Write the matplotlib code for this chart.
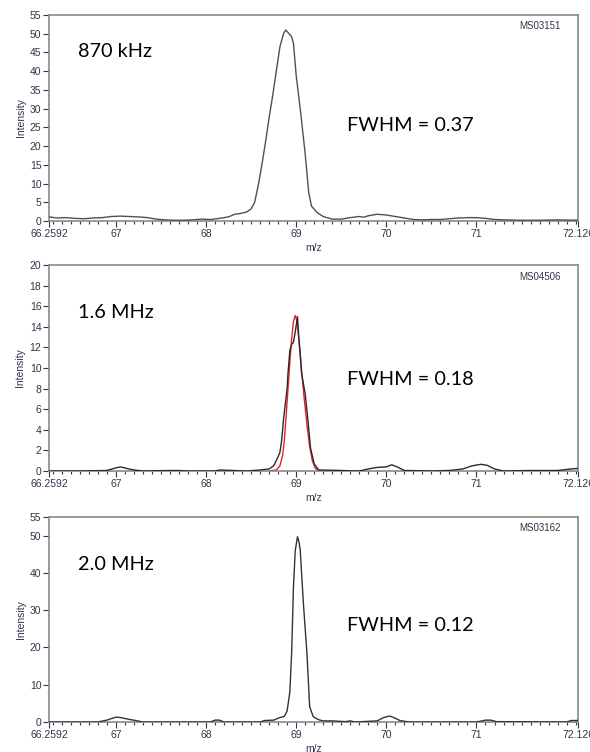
import matplotlib
matplotlib.use("Agg")
import matplotlib.pyplot as plt
import numpy as np
from matplotlib.ticker import MultipleLocator, FixedLocator

# ---------------- data ----------------
x_870 = [66.26, 66.35, 66.45, 66.55, 66.65, 66.75, 66.85, 66.95, 67.05, 67.15, 67.25, 67.35,
         67.45, 67.55, 67.65, 67.75, 67.85, 67.95, 68.05, 68.15, 68.25, 68.32, 68.38, 68.45,
         68.50, 68.54, 68.58, 68.62, 68.66, 68.70, 68.74, 68.78, 68.82, 68.86, 68.885, 68.95,
         68.97, 69.00, 69.05, 69.10, 69.14, 69.17, 69.23, 69.30, 69.40, 69.50, 69.60, 69.70,
         69.75, 69.80, 69.90, 70.00, 70.10, 70.20, 70.30, 70.40, 70.50, 70.60, 70.70, 70.80,
         70.90, 71.00, 71.10, 71.20, 71.30, 71.50, 71.70, 71.90, 72.126]
y_870 = [1.1, 0.8, 0.9, 0.7, 0.6, 0.8, 0.9, 1.2, 1.3, 1.2, 1.1, 0.9,
         0.5, 0.3, 0.2, 0.2, 0.3, 0.5, 0.4, 0.7, 1.1, 1.8, 2.0, 2.4,
         3.2, 5.0, 9.5, 15.0, 21.0, 27.5, 33.5, 40.0, 46.5, 50.0, 51.0, 49.2,
         47.5, 39.0, 29.0, 18.0, 7.5, 4.0, 2.3, 1.2, 0.5, 0.5, 0.9, 1.2,
         1.0, 1.4, 1.8, 1.6, 1.2, 0.8, 0.4, 0.3, 0.4, 0.4, 0.6, 0.8,
         0.9, 0.9, 0.7, 0.4, 0.3, 0.2, 0.2, 0.3, 0.2]

x_16 = [66.26, 66.60, 66.90, 67.00, 67.05, 67.12, 67.20, 67.30, 67.60, 67.70, 67.80, 68.10,
        68.15, 68.30, 68.45, 68.60, 68.70, 68.75, 68.785, 68.82, 68.84, 68.86, 68.88, 68.90,
        68.91, 68.93, 68.95, 68.97, 68.99, 69.015, 69.03, 69.045, 69.06, 69.10, 69.13, 69.16,
        69.20, 69.25, 69.50, 69.70, 69.80, 69.90, 70.00, 70.06, 70.12, 70.20, 70.50, 70.70,
        70.85, 70.95, 71.05, 71.12, 71.20, 71.30, 71.60, 71.90, 72.05, 72.126]
y_16 = [0.0, 0.0, 0.05, 0.3, 0.4, 0.25, 0.1, 0.0, 0.05, 0.05, 0.0, 0.0,
        0.1, 0.05, 0.0, 0.1, 0.2, 0.5, 1.1, 1.8, 3.0, 5.0, 6.5, 8.0,
        9.5, 11.7, 12.3, 12.5, 13.5, 15.0, 12.9, 11.4, 9.5, 7.5, 5.0, 2.2,
        0.7, 0.1, 0.05, 0.0, 0.2, 0.35, 0.4, 0.6, 0.4, 0.05, 0.0, 0.05,
        0.2, 0.5, 0.65, 0.55, 0.2, 0.0, 0.05, 0.05, 0.2, 0.25]

x_16_fit = [68.70, 68.78, 68.82, 68.85, 68.87, 68.89, 68.91, 68.93, 68.95, 68.97, 68.99,
            69.01, 69.03, 69.06, 69.09, 69.12, 69.15, 69.18, 69.21, 69.25]
y_16_fit = [0.0, 0.1, 0.5, 1.5, 3.0, 5.5, 8.0, 10.5, 12.8, 14.5, 15.1,
            14.5, 12.8, 9.8, 7.0, 4.5, 2.4, 1.0, 0.3, 0.0]

x_20 = [66.26, 66.80, 66.90, 67.00, 67.05, 67.15, 67.22, 67.30, 68.05, 68.10, 68.15, 68.20,
        68.60, 68.65, 68.75, 68.82, 68.87, 68.90, 68.93, 68.95, 68.97, 68.99, 69.015, 69.03,
        69.045, 69.08, 69.12, 69.15, 69.19, 69.25, 69.30, 69.40, 69.55, 69.60, 69.65, 69.90,
        69.97, 70.04, 70.10, 70.15, 70.25, 71.00, 71.10, 71.16, 71.22, 72.00, 72.05, 72.126]
y_20 = [0.0, 0.0, 0.5, 1.3, 1.2, 0.7, 0.4, 0.0, 0.0, 0.5, 0.5, 0.0,
        0.0, 0.4, 0.5, 1.2, 1.5, 3.0, 8.0, 18.4, 36.0, 46.0, 49.7, 48.5,
        46.3, 32.0, 18.4, 4.1, 1.4, 0.6, 0.3, 0.3, 0.1, 0.3, 0.0, 0.3,
        1.2, 1.6, 1.0, 0.4, 0.0, 0.0, 0.5, 0.5, 0.1, 0.0, 0.4, 0.4]

panel_labels = ["870 kHz", "1.6 MHz", "2.0 MHz"]
fwhm_labels = ["FWHM = 0.37", "FWHM = 0.18", "FWHM = 0.12"]
scan_ids = ["MS03151", "MS04506", "MS03162"]
xmajor = [66.2592, 67, 68, 69, 70, 71, 72.126]
xmajor_labels = ["66.2592", "67", "68", "69", "70", "71", "72.126"]
xlim = (66.2592, 72.126)

# ---------------- figure ----------------
W, H = 590, 752
fig = plt.figure(figsize=(W / 100, H / 100), dpi=100)
fig.patch.set_facecolor("white")

def frac(l, t, r, b):
    return [l / W, 1 - b / H, (r - l) / W, (b - t) / H]

boxes = [frac(49, 15, 578, 221), frac(49, 265, 578, 471), frac(49, 517, 578, 722)]
ylims = [55, 20, 55]
yticks = [list(range(0, 56, 5)), list(range(0, 21, 2)), [0, 10, 20, 30, 40, 50, 55]]
label_y = [0.822, 0.767, 0.766]
fwhm_y = [0.466, 0.442, 0.473]
id_y = [0.948, 0.943, 0.946]

tick_col = "#33334a"
spine_col = "#8a8a8a"
txt_font = ["Lato", "DejaVu Sans"]
small_font = ["Liberation Sans", "DejaVu Sans"]

series = [(x_870, y_870, "#505050"), (x_16, y_16, "#2a2a2a"), (x_20, y_20, "#333333")]

for i, box in enumerate(boxes):
    ax = fig.add_axes(box)
    xs, ys, col = series[i]
    if i == 1:
        ax.plot(x_16_fit, y_16_fit, color="#e8202a", lw=1.0, zorder=2)
    ax.plot(xs, ys, color=col, lw=1.0, zorder=3)
    ax.set_xlim(*xlim)
    ax.set_ylim(0, ylims[i])
    ax.xaxis.set_major_locator(FixedLocator(xmajor))
    ax.set_xticklabels(xmajor_labels)
    ax.xaxis.set_minor_locator(MultipleLocator(0.1))
    ax.yaxis.set_major_locator(FixedLocator(yticks[i]))
    ax.tick_params(axis="both", which="major", direction="out", length=4, width=0.8,
                   color=tick_col, labelsize=7.5, labelcolor=tick_col, pad=1.5)
    ax.tick_params(axis="x", which="minor", direction="out", length=2.5, width=0.8, color=tick_col)
    for lab in ax.get_xticklabels() + ax.get_yticklabels():
        lab.set_family(small_font)
    for s in ax.spines.values():
        s.set_color(spine_col)
        s.set_linewidth(1.2)
    ax.set_xlabel("m/z", fontsize=7.5, color=tick_col, family=small_font, labelpad=3)
    ax.set_ylabel("Intensity", fontsize=7.5, color=tick_col, family=small_font, labelpad=3)
    ax.text(0.055, label_y[i], panel_labels[i], transform=ax.transAxes, fontsize=14.3,
            family=txt_font, color="black", ha="left", va="center")
    ax.text(0.564, fwhm_y[i], fwhm_labels[i], transform=ax.transAxes, fontsize=14.3,
            family=txt_font, color="black", ha="left", va="center")
    ax.text(0.968, id_y[i], scan_ids[i], transform=ax.transAxes, fontsize=7,
            family=small_font, color=tick_col, ha="right", va="center")

fig.savefig("out.png", dpi=100)
